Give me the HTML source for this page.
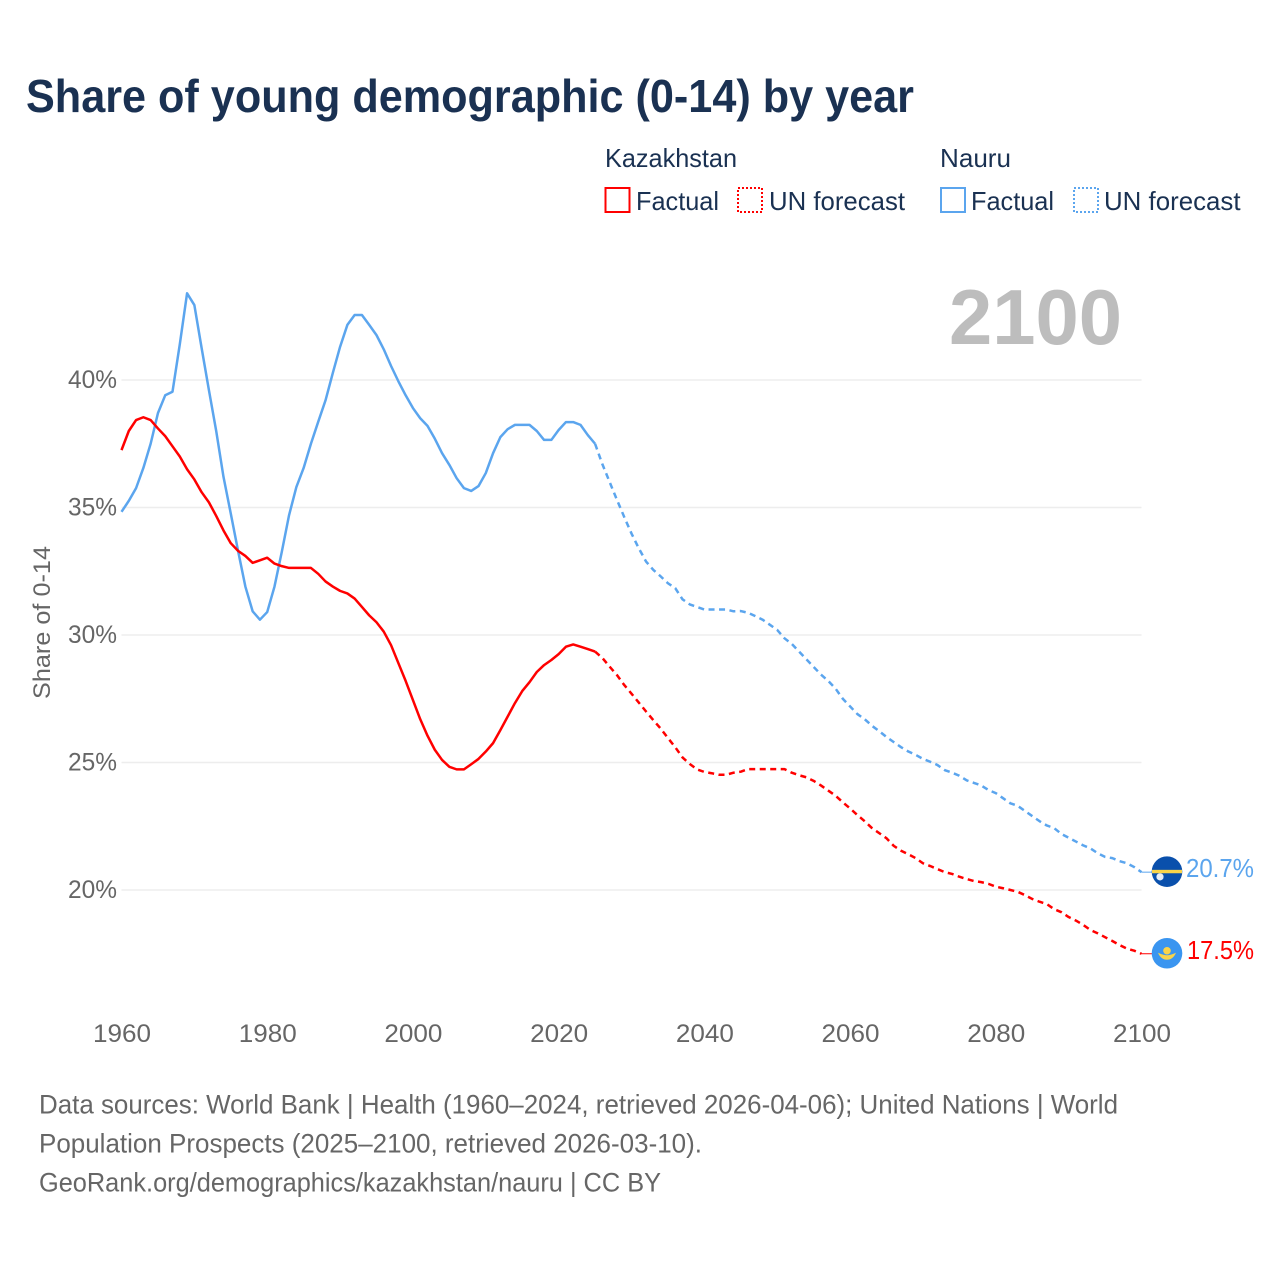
<!DOCTYPE html>
<html lang="en">
<head>
<meta charset="utf-8">
<title>Share of young demographic (0-14) by year</title>
<style>
html,body{margin:0;padding:0;background:#fff;}
svg{display:block;font-family:"Liberation Sans",sans-serif;}
</style>
</head>
<body>
<svg id="chart" xmlns="http://www.w3.org/2000/svg" width="1280" height="1280" viewBox="0 0 1280 1280">
  <rect x="0" y="0" width="1280" height="1280" fill="#ffffff"/>
  <text x="26" y="112" font-size="46" font-weight="700" fill="#1a3152" textLength="888" lengthAdjust="spacingAndGlyphs">Share of young demographic (0-14) by year</text>

  <g font-size="26" fill="#1a3152">
    <text x="605" y="167" textLength="132" lengthAdjust="spacingAndGlyphs">Kazakhstan</text>
    <text x="940" y="167" textLength="71" lengthAdjust="spacingAndGlyphs">Nauru</text>
    <rect x="605.5" y="188" width="24" height="24" fill="none" stroke="#ff0000" stroke-width="2"/>
    <text x="636" y="210" textLength="83" lengthAdjust="spacingAndGlyphs">Factual</text>
    <rect x="738" y="188" width="24" height="24" fill="none" stroke="#ff0000" stroke-width="2" stroke-dasharray="2 2"/>
    <text x="769" y="210" textLength="136" lengthAdjust="spacingAndGlyphs">UN forecast</text>
    <rect x="941" y="188" width="24" height="24" fill="none" stroke="#5ba5ee" stroke-width="2"/>
    <text x="971" y="210" textLength="83" lengthAdjust="spacingAndGlyphs">Factual</text>
    <rect x="1074" y="188" width="24" height="24" fill="none" stroke="#5ba5ee" stroke-width="2" stroke-dasharray="2 2"/>
    <text x="1104" y="210" textLength="136.5" lengthAdjust="spacingAndGlyphs">UN forecast</text>
  </g>

  <text x="949" y="344" font-size="78" font-weight="700" fill="#bdbdbd" textLength="173" lengthAdjust="spacingAndGlyphs">2100</text>
  <text transform="translate(50 622.5) rotate(-90)" text-anchor="middle" font-size="24" fill="#666666" textLength="153" lengthAdjust="spacingAndGlyphs">Share of 0-14</text>

  <g id="grid"></g>
  <g id="y-ticks"></g>
  <g id="x-ticks"></g>
  <g id="series"></g>
  <g id="end-markers"></g>

  <g font-size="26.5" fill="#666666">
    <text x="39" y="1113.5" textLength="1079" lengthAdjust="spacingAndGlyphs">Data sources: World Bank | Health (1960–2024, retrieved 2026-04-06); United Nations | World</text>
    <text x="39" y="1152.5" textLength="663" lengthAdjust="spacingAndGlyphs">Population Prospects (2025–2100, retrieved 2026-03-10).</text>
    <text x="39" y="1191.5" textLength="622" lengthAdjust="spacingAndGlyphs">GeoRank.org/demographics/kazakhstan/nauru | CC BY</text>
  </g>
</svg>
<script>
const factualStartYear = 1960;
const forecastStartYear = 2025;
const yTickValues = [40, 35, 30, 25, 20];
const xTickYears = [1960, 1980, 2000, 2020, 2040, 2060, 2080, 2100];

const kazakhstanFactual = [
  37.25,38.0,38.43,38.54,38.43,38.1,37.8,37.4,37.0,36.5,
  36.1,35.6,35.2,34.67,34.1,33.6,33.3,33.1,32.83,32.93,
  33.03,32.8,32.7,32.63,32.63,32.63,32.63,32.4,32.1,31.9,
  31.73,31.63,31.43,31.1,30.77,30.5,30.13,29.6,28.9,28.2,
  27.45,26.7,26.05,25.5,25.1,24.83,24.73,24.73,24.93,25.14,
  25.43,25.76,26.27,26.8,27.33,27.8,28.15,28.55,28.82,29.02,
  29.25,29.54,29.63,29.54,29.45,29.35
];
const kazakhstanForecast = [
  29.35,29.1,28.76,28.43,28.04,27.7,27.35,27.0,26.66,26.33,
  25.96,25.6,25.2,24.94,24.73,24.63,24.58,24.52,24.52,24.6,
  24.64,24.74,24.74,24.74,24.74,24.74,24.74,24.6,24.5,24.42,
  24.28,24.1,23.9,23.7,23.44,23.2,22.94,22.7,22.43,22.23,
  22.03,21.73,21.54,21.4,21.25,21.05,20.94,20.82,20.7,20.63,
  20.52,20.43,20.35,20.31,20.24,20.13,20.07,20.0,19.93,19.8,
  19.65,19.54,19.45,19.25,19.13,18.94,18.8,18.63,18.43,18.3,
  18.15,18.0,17.84,17.7,17.62,17.5
];
const nauruFactual = [
  34.83,35.26,35.76,36.55,37.5,38.7,39.4,39.54,41.4,43.4,
  42.94,41.25,39.6,38.0,36.2,34.76,33.3,31.9,30.93,30.6,
  30.9,31.9,33.26,34.7,35.8,36.55,37.5,38.36,39.2,40.27,
  41.3,42.16,42.55,42.55,42.16,41.76,41.2,40.55,39.95,39.4,
  38.9,38.5,38.2,37.7,37.13,36.67,36.15,35.76,35.65,35.84,
  36.35,37.13,37.76,38.07,38.24,38.24,38.24,38.0,37.65,37.65,
  38.04,38.35,38.35,38.24,37.84,37.5
];
const nauruForecast = [
  37.5,36.7,36.0,35.3,34.63,33.98,33.4,32.88,32.55,32.3,
  32.03,31.84,31.4,31.2,31.1,31.0,31.0,31.0,31.0,30.93,
  30.94,30.87,30.74,30.6,30.4,30.2,29.87,29.65,29.35,29.05,
  28.75,28.45,28.2,27.9,27.5,27.2,26.9,26.7,26.44,26.23,
  26.0,25.8,25.6,25.43,25.3,25.14,25.03,24.9,24.7,24.6,
  24.48,24.3,24.2,24.1,23.92,23.8,23.6,23.4,23.3,23.1,
  22.9,22.7,22.53,22.43,22.2,22.05,21.9,21.75,21.63,21.44,
  21.3,21.25,21.13,21.05,20.9,20.7
];

const RED = '#ff0000';
const BLUE = '#5ba5ee';
const SVG_NS = 'http://www.w3.org/2000/svg';

function xScale(year) { return 121.5 + (year - 1960) * (1020 / 140); }
function yScale(value) { return 890 - (value - 20) * 25.5; }

function make(tag, attrs, parent) {
  const el = document.createElementNS(SVG_NS, tag);
  for (const key in attrs) el.setAttribute(key, attrs[key]);
  parent.appendChild(el);
  return el;
}

function pointsFor(values, startYear) {
  return values.map((v, i) => xScale(startYear + i).toFixed(2) + ',' + yScale(v).toFixed(2)).join(' ');
}

const gridGroup = document.getElementById('grid');
const yTickGroup = document.getElementById('y-ticks');
yTickValues.forEach(function (v) {
  const line = make('line', {x1: xScale(1960), x2: xScale(2100), y1: yScale(v), y2: yScale(v), stroke: '#ededed', 'stroke-width': 1.5}, gridGroup);
  
  
  const label = make('text', {x: 68, y: yScale(v) + 8, 'font-size': 25, fill: '#666666', textLength: 49, lengthAdjust: 'spacingAndGlyphs'}, yTickGroup);
  label.textContent = v + '%';
  
  
});

const xTickGroup = document.getElementById('x-ticks');
xTickYears.forEach(function (year) {
  const label = make('text', {x: xScale(year) - 28.5, y: 1042, 'font-size': 25, fill: '#666666', textLength: 58, lengthAdjust: 'spacingAndGlyphs'}, xTickGroup);
  label.textContent = String(year);
  
  
});

const seriesGroup = document.getElementById('series');

const nauruFactualLine = make('polyline', {points: pointsFor(nauruFactual, factualStartYear), fill: 'none', stroke: BLUE, 'stroke-width': 2.5, 'stroke-linejoin': 'round'}, seriesGroup);



const nauruForecastLine = make('polyline', {points: pointsFor(nauruForecast, forecastStartYear), fill: 'none', stroke: BLUE, 'stroke-width': 2.5, 'stroke-dasharray': '6 4.5', 'stroke-linejoin': 'round'}, seriesGroup);



const kazakhstanFactualLine = make('polyline', {points: pointsFor(kazakhstanFactual, factualStartYear), fill: 'none', stroke: RED, 'stroke-width': 2.5, 'stroke-linejoin': 'round'}, seriesGroup);



const kazakhstanForecastLine = make('polyline', {points: pointsFor(kazakhstanForecast, forecastStartYear), fill: 'none', stroke: RED, 'stroke-width': 2.5, 'stroke-dasharray': '6 4.5', 'stroke-linejoin': 'round'}, seriesGroup);



const markerGroup = document.getElementById('end-markers');
const markerX = xScale(2100) + 25.5;

/* Nauru end marker */
const nauruLast = nauruForecast[nauruForecast.length - 1];
const nauruY = yScale(nauruLast);
const nauruConnector = make('line', {x1: xScale(2100), x2: markerX - 15, y1: nauruY, y2: nauruY, stroke: BLUE, 'stroke-width': 1}, markerGroup);


const nauruFlag = make('g', {transform: 'translate(' + markerX + ' ' + (nauruY - 0.5) + ')'}, markerGroup);


make('circle', {cx: 0, cy: 0, r: 15.3, fill: '#0a50ac'}, nauruFlag);
make('rect', {x: -15, y: -1.8, width: 30, height: 3.4, fill: '#f9d44a'}, nauruFlag);
make('circle', {cx: -7, cy: 5.2, r: 3.6, fill: '#e6edf7'}, nauruFlag);
const nauruValue = make('text', {x: 1186, y: nauruY + 5, 'font-size': 25.5, fill: BLUE, textLength: 68, lengthAdjust: 'spacingAndGlyphs'}, markerGroup);
nauruValue.textContent = nauruLast.toFixed(1) + '%';



/* Kazakhstan end marker */
const kazakhstanLast = kazakhstanForecast[kazakhstanForecast.length - 1];
const kazakhstanY = yScale(kazakhstanLast);
const kazakhstanConnector = make('line', {x1: xScale(2100), x2: markerX - 15, y1: kazakhstanY, y2: kazakhstanY, stroke: RED, 'stroke-width': 1}, markerGroup);


const kazakhstanFlag = make('g', {transform: 'translate(' + markerX + ' ' + (kazakhstanY - 0.5) + ')'}, markerGroup);


make('circle', {cx: 0, cy: 0, r: 15.3, fill: '#3a95f0'}, kazakhstanFlag);
make('circle', {cx: 0, cy: -2.5, r: 3.8, fill: '#f9d44a'}, kazakhstanFlag);
make('path', {d: 'M-9 -0.5 Q-3.5 2 0 2 Q3.5 2 9 -0.5 Q6 6.5 0 6.5 Q-6 6.5 -9 -0.5 Z', fill: '#f9d44a'}, kazakhstanFlag);
const kazakhstanValue = make('text', {x: 1187, y: kazakhstanY + 5, 'font-size': 25.5, fill: RED, textLength: 67, lengthAdjust: 'spacingAndGlyphs'}, markerGroup);
kazakhstanValue.textContent = kazakhstanLast.toFixed(1) + '%';


</script>
</body>
</html>
